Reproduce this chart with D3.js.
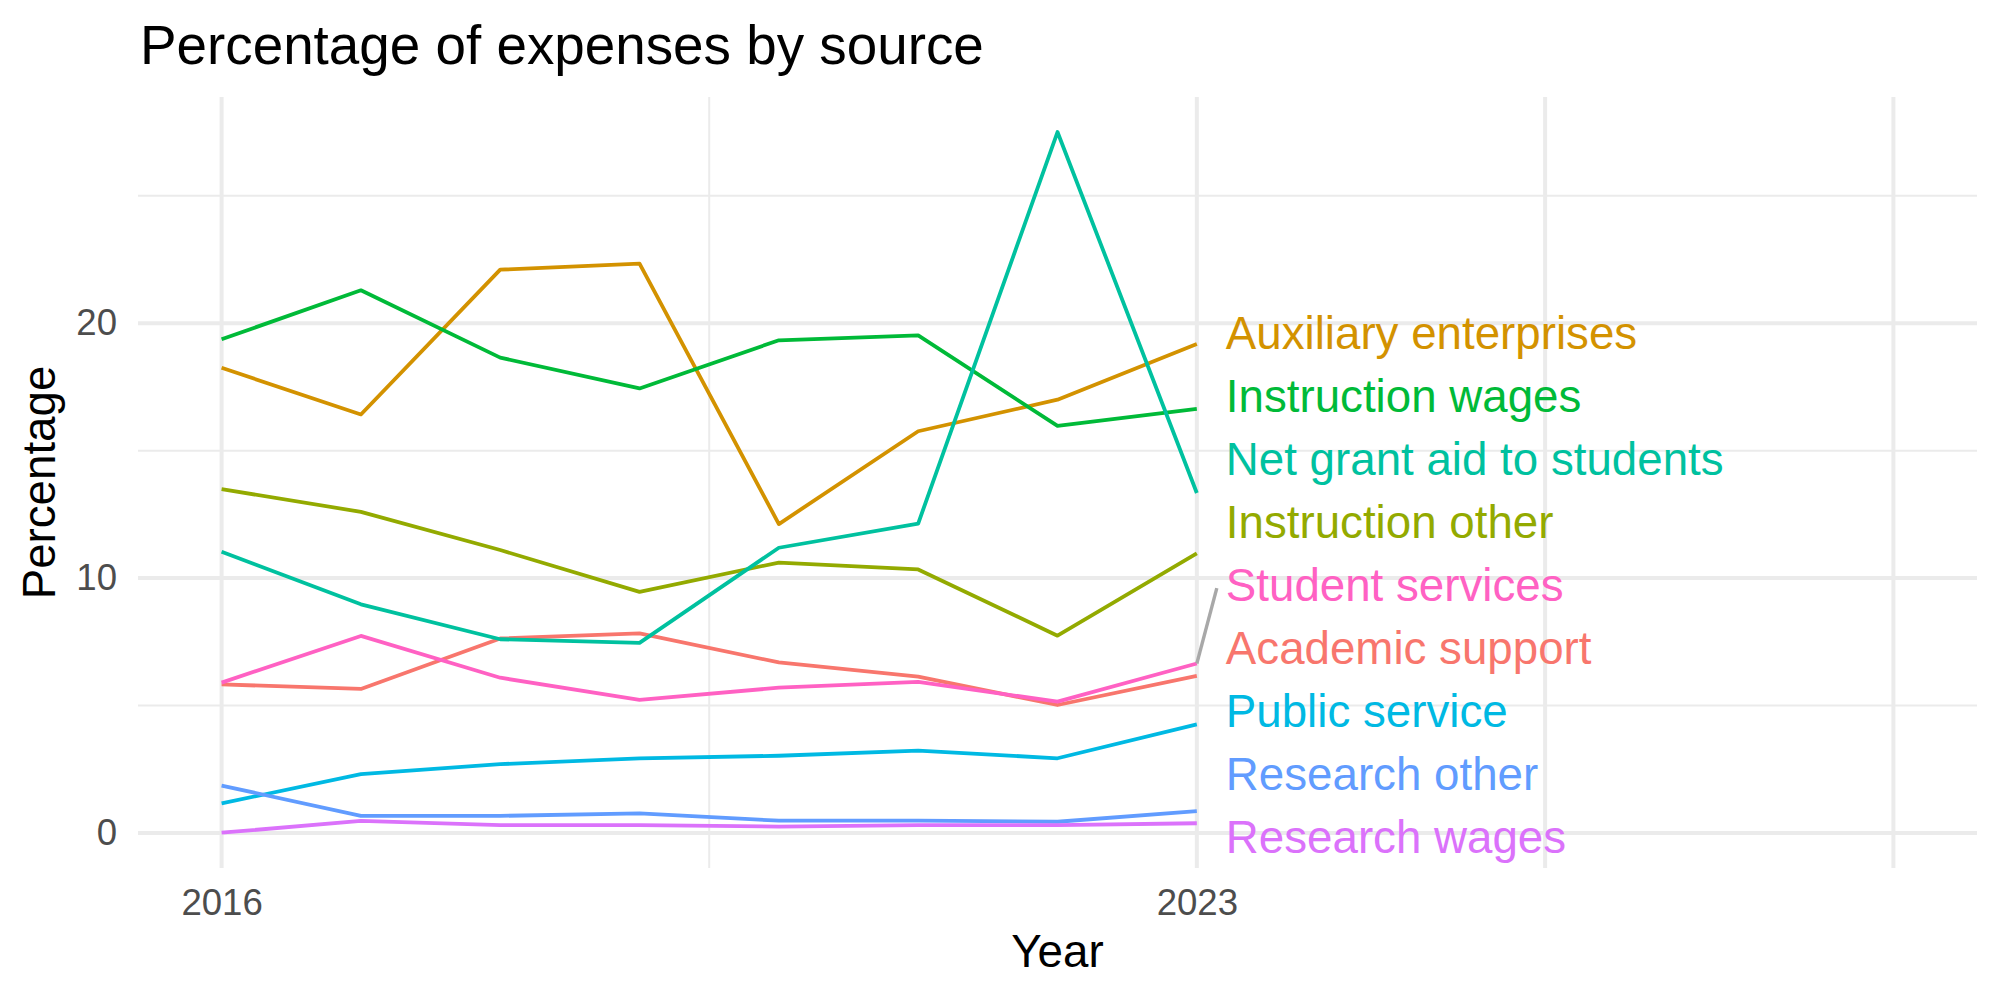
<!DOCTYPE html>
<html>
<head>
<meta charset="utf-8">
<script src="https://cdn.jsdelivr.net/npm/d3@7"></script>
<style>
  body { margin: 0; background: #fff; }
  svg { display: block; font-family: "Liberation Sans", Arial, sans-serif; }
</style>
</head>
<body>
<div id="chart"></div>
<script>
// data
const years = [2016, 2017, 2018, 2019, 2020, 2021, 2022, 2023];

const academicSupport = [5.83, 5.65, 7.63, 7.83, 6.69, 6.13, 5.02, 6.16];
const auxiliaryEnterprises = [18.25, 16.42, 22.1, 22.34, 12.12, 15.76, 17.0, 19.18];
const instructionOther = [13.49, 12.6, 11.1, 9.46, 10.61, 10.34, 7.74, 10.97];
const instructionWages = [19.37, 21.29, 18.65, 17.44, 19.33, 19.52, 15.97, 16.64];
const netGrantAid = [11.03, 8.97, 7.6, 7.46, 11.19, 12.14, 27.5, 13.34];
const publicService = [1.16, 2.31, 2.7, 2.93, 3.03, 3.23, 2.93, 4.26];
const researchOther = [1.86, 0.67, 0.67, 0.77, 0.48, 0.48, 0.44, 0.86];
const researchWages = [0.01, 0.47, 0.31, 0.31, 0.25, 0.31, 0.31, 0.38];
const studentServices = [5.9, 7.73, 6.09, 5.22, 5.7, 5.93, 5.15, 6.65];

const categories = [
  "Academic support", "Auxiliary enterprises", "Instruction other",
  "Instruction wages", "Net grant aid to students", "Public service",
  "Research other", "Research wages", "Student services"
];
const seriesValues = [
  academicSupport, auxiliaryEnterprises, instructionOther,
  instructionWages, netGrantAid, publicService,
  researchOther, researchWages, studentServices
];
const palette = ["#F8766D", "#D39200", "#93AA00", "#00BA38", "#00C19F",
                 "#00B9E3", "#619CFF", "#DB72FB", "#FF61C3"];

const xLimits = [2016, 2028];
const xMajor = [2016, 2023, 2025.5, 2028];
const xMinor = [2019.5];
const xLabels = [2016, 2023];
const yMajor = [0, 10, 20];
const yMinor = [5, 15, 25];

const series = categories.map((name, i) => ({
  name: name,
  color: palette[i],
  values: years.map((yr, j) => ({ year: yr, value: seriesValues[i][j] }))
}));

const width = 2000, height = 1000;
const margin = { top: 97, right: 23, bottom: 132, left: 138 };

const svg = d3.select("#chart").append("svg")
  .attr("width", width)
  .attr("height", height);

// ggplot style 5% expansion
const xPad = (xLimits[1] - xLimits[0]) * 0.05;
const x = d3.scaleLinear()
  .domain([xLimits[0] - xPad, xLimits[1] + xPad])
  .range([margin.left, width - margin.right]);

const yMax = d3.max(seriesValues, s => d3.max(s));
const yPad = yMax * 0.05;
const y = d3.scaleLinear()
  .domain([-yPad, yMax + yPad])
  .range([height - margin.bottom, margin.top]);

const grid = svg.append("g");
const gridColor = "#EBEBEB";

grid.selectAll(".ymin").data(yMinor).join("line")
  .attr("x1", margin.left).attr("x2", width - margin.right)
  .attr("y1", d => y(d)).attr("y2", d => y(d))
  .attr("stroke", gridColor).attr("stroke-width", 2);
grid.selectAll(".xmin").data(xMinor).join("line")
  .attr("y1", margin.top).attr("y2", height - margin.bottom)
  .attr("x1", d => x(d)).attr("x2", d => x(d))
  .attr("stroke", gridColor).attr("stroke-width", 2);
grid.selectAll(".ymaj").data(yMajor).join("line")
  .attr("x1", margin.left).attr("x2", width - margin.right)
  .attr("y1", d => y(d)).attr("y2", d => y(d))
  .attr("stroke", gridColor).attr("stroke-width", 4);
grid.selectAll(".xmaj").data(xMajor).join("line")
  .attr("y1", margin.top).attr("y2", height - margin.bottom)
  .attr("x1", d => x(d)).attr("x2", d => x(d))
  .attr("stroke", gridColor).attr("stroke-width", 4);

// axes (text only, like theme_minimal)
const yAxis = svg.append("g")
  .attr("transform", `translate(${margin.left - 21},0)`)
  .call(d3.axisLeft(y).tickValues(yMajor).tickSize(0).tickPadding(0));
yAxis.select(".domain").remove();
yAxis.selectAll("text")
  .attr("font-size", 36.6).attr("fill", "#4D4D4D")
  .attr("font-family", "Liberation Sans, Arial, sans-serif");

const xAxis = svg.append("g")
  .attr("transform", `translate(0,${height - margin.bottom + 21})`)
  .call(d3.axisBottom(x).tickValues(xLabels).tickFormat(d3.format("d")).tickSize(0).tickPadding(0));
xAxis.select(".domain").remove();
xAxis.selectAll("text")
  .attr("font-size", 36.6).attr("fill", "#4D4D4D")
  .attr("font-family", "Liberation Sans, Arial, sans-serif");

// lines
const line = d3.line()
  .x(d => x(d.year))
  .y(d => y(d.value));

svg.append("g").selectAll("path").data(series).join("path")
  .attr("d", d => line(d.values))
  .attr("fill", "none")
  .attr("stroke", d => d.color)
  .attr("stroke-width", 3.8)
  .attr("stroke-linejoin", "round");

// end labels, stacked from the highest end value downward
const lastYear = years[years.length - 1];
const ordered = series.slice().sort((a, b) =>
  b.values[b.values.length - 1].value - a.values[a.values.length - 1].value);
const labelGap = 63;
const labelX = x(lastYear) + 29;
const top0 = y(ordered[0].values[ordered[0].values.length - 1].value) - 12;
ordered.forEach((s, i) => {
  s.labelY = top0 + i * labelGap;
  s.endY = y(s.values[s.values.length - 1].value);
});

const labels = svg.append("g");
ordered.forEach(s => {
  const sx = x(lastYear), sy = s.endY;
  const tx = labelX - 9, ty = s.labelY;
  if (Math.hypot(tx - sx, ty - sy) > 55) {
    labels.append("line")
      .attr("x1", sx).attr("y1", sy)
      .attr("x2", tx).attr("y2", ty + 4)
      .attr("stroke", "#A8A8A8")
      .attr("stroke-width", 3.4);
  }
});
labels.selectAll("text").data(ordered).join("text")
  .attr("x", labelX)
  .attr("y", d => d.labelY)
  .attr("dy", "0.36em")
  .attr("font-size", 45.7)
  .attr("fill", d => d.color)
  .text(d => d.name);

// titles
svg.append("text")
  .attr("x", 140).attr("y", 64)
  .attr("font-size", 54.8)
  .attr("fill", "#000")
  .text("Percentage of expenses by source");

svg.append("text")
  .attr("x", (margin.left + width - margin.right) / 2)
  .attr("y", 967)
  .attr("text-anchor", "middle")
  .attr("font-size", 45.7)
  .attr("fill", "#000")
  .text("Year");

svg.append("text")
  .attr("transform", `translate(55,${(margin.top + height - margin.bottom) / 2}) rotate(-90)`)
  .attr("text-anchor", "middle")
  .attr("font-size", 45.7)
  .attr("fill", "#000")
  .text("Percentage");
</script>
</body>
</html>
